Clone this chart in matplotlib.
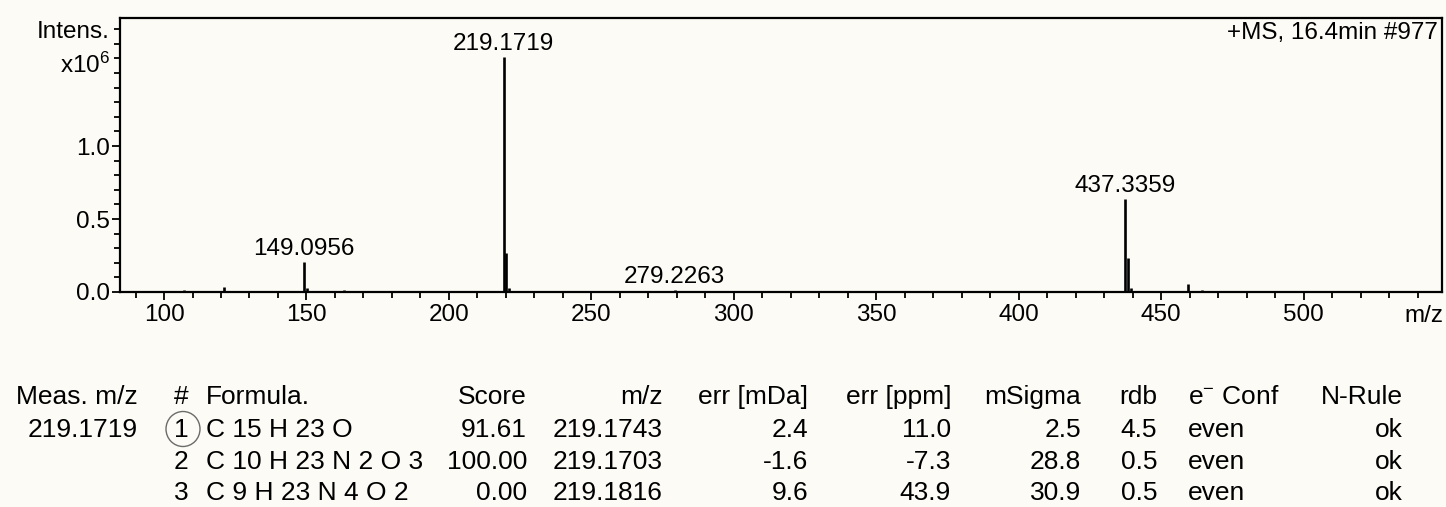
import matplotlib
matplotlib.use("Agg")
import matplotlib.pyplot as plt
from matplotlib.ticker import MultipleLocator, FixedLocator
from matplotlib.patches import Ellipse

# ---------------- data ----------------
peak_mz = [107.1, 121.1, 149.0956, 150.1, 163.1, 201.1, 219.1719, 220.175, 221.18,
           241.1, 279.2263, 437.3359, 438.34, 439.34, 459.3, 464.3]
peak_int = [0.012, 0.035, 0.205, 0.03, 0.012, 0.01, 1.61, 0.27, 0.03,
            0.01, 0.012, 0.64, 0.23, 0.03, 0.055, 0.015]
labeled_mz = [149.0956, 219.1719, 279.2263, 437.3359]
labeled_int = [0.205, 1.61, 0.012, 0.64]

x_major = [100, 150, 200, 250, 300, 350, 400, 450, 500]
y_major = [0.0, 0.5, 1.0]
y_ticklabels = ["0.0", "0.5", "1.0"]
scan_title = "+MS, 16.4min #977"

headers = ["Meas. m/z", "#", "Formula.", "Score", "m/z", "err [mDa]", "err [ppm]",
           "mSigma", "rdb", "e$^{-}$ Conf", "N-Rule"]
meas_mz = ["219.1719", "", ""]
rank = ["1", "2", "3"]
formula = ["C 15 H 23 O", "C 10 H 23 N 2 O 3", "C 9 H 23 N 4 O 2"]
score = [91.61, 100.00, 0.00]
calc_mz = [219.1743, 219.1703, 219.1816]
err_mda = [2.4, -1.6, 9.6]
err_ppm = [11.0, -7.3, 43.9]
msigma = [2.5, 28.8, 30.9]
rdb = [4.5, 0.5, 0.5]
e_conf = ["even", "even", "even"]
n_rule = ["ok", "ok", "ok"]

# ---------------- style ----------------
plt.rcParams["font.family"] = ["Liberation Sans", "DejaVu Sans"]
plt.rcParams["mathtext.fontset"] = "custom"
plt.rcParams["mathtext.rm"] = "Liberation Sans"
plt.rcParams["mathtext.it"] = "Liberation Sans"
plt.rcParams["mathtext.default"] = "regular"

W, H = 1446, 507
bg = "#fcfbf6"
fig = plt.figure(figsize=(W / 100, H / 100), dpi=100, facecolor=bg)

def fx(px):
    return px / W

def fy(py):
    return 1 - py / H

ax_l, ax_r, ax_t, ax_b = 120, 1442, 18, 292
ax = fig.add_axes([fx(ax_l), fy(ax_b), fx(ax_r - ax_l), (ax_b - ax_t) / H], facecolor=bg)

ax.vlines(peak_mz, 0, peak_int, color="black", lw=1.9)
for m, i in zip(labeled_mz, labeled_int):
    ax.annotate(f"{m:.4f}", xy=(m, i), xytext=(0, 5), textcoords="offset points",
                ha="center", va="baseline", fontsize=17.5)

ax.set_xlim(84.55, 548.6)
ax.set_ylim(0, 1.877)
ax.xaxis.set_major_locator(FixedLocator(x_major))
ax.xaxis.set_minor_locator(MultipleLocator(10))
ax.yaxis.set_major_locator(FixedLocator(y_major))
ax.set_yticklabels(y_ticklabels)
ax.yaxis.set_minor_locator(MultipleLocator(0.1))
ax.tick_params(axis="both", which="major", direction="out", length=5.5, width=1.3,
               labelsize=17.5, color="black")
ax.tick_params(axis="both", which="minor", direction="out", length=4, width=1.3)
ax.tick_params(axis="x", which="major", pad=3)
ax.tick_params(axis="y", which="major", pad=2)
for s in ax.spines.values():
    s.set_linewidth(1.6)
    s.set_color("black")

ax.text(0.997, 0.985, scan_title, transform=ax.transAxes, ha="right", va="top", fontsize=17.5)
ax.text(-0.0075, 1.78, "Intens.", transform=ax.get_yaxis_transform(), ha="right",
        va="center", fontsize=17.5)
ax.text(-0.0075, 1.55, "x10$^{6}$", transform=ax.get_yaxis_transform(), ha="right",
        va="center", fontsize=17.5)
fig.text(fx(1443), fy(316), "m/z", ha="right", va="center", fontsize=17.5)

# ---------------- table ----------------
fs = 19
hdr_y = 404
row_y = [437, 469, 500]
cols = [(138, "right"), (181, "center"), (206, "left"), (527, "right"), (663, "right"),
        (808, "right"), (951, "right"), (1081, "right"), (1157, "right"), (1188, "left"),
        (1403, "right")]
for (x, al), h in zip(cols, headers):
    fig.text(fx(x), fy(hdr_y), h, ha=al, va="baseline", fontsize=fs)

row_cols = [meas_mz, rank, formula,
            [f"{v:.2f}" for v in score],
            [f"{v:.4f}" for v in calc_mz],
            [f"{v:.1f}" for v in err_mda],
            [f"{v:.1f}" for v in err_ppm],
            [f"{v:.1f}" for v in msigma],
            [f"{v:.1f}" for v in rdb],
            e_conf, n_rule]
for (x, al), vals in zip(cols, row_cols):
    for yy, v in zip(row_y, vals):
        fig.text(fx(x), fy(yy), v, ha=al, va="baseline", fontsize=fs)

fig.patches.append(Ellipse((fx(183), fy(429)), width=fx(34), height=35 / H,
                           transform=fig.transFigure, fill=False, ec="#6b6b6b", lw=1.0))

fig.savefig("out.png", dpi=100, facecolor=bg)
